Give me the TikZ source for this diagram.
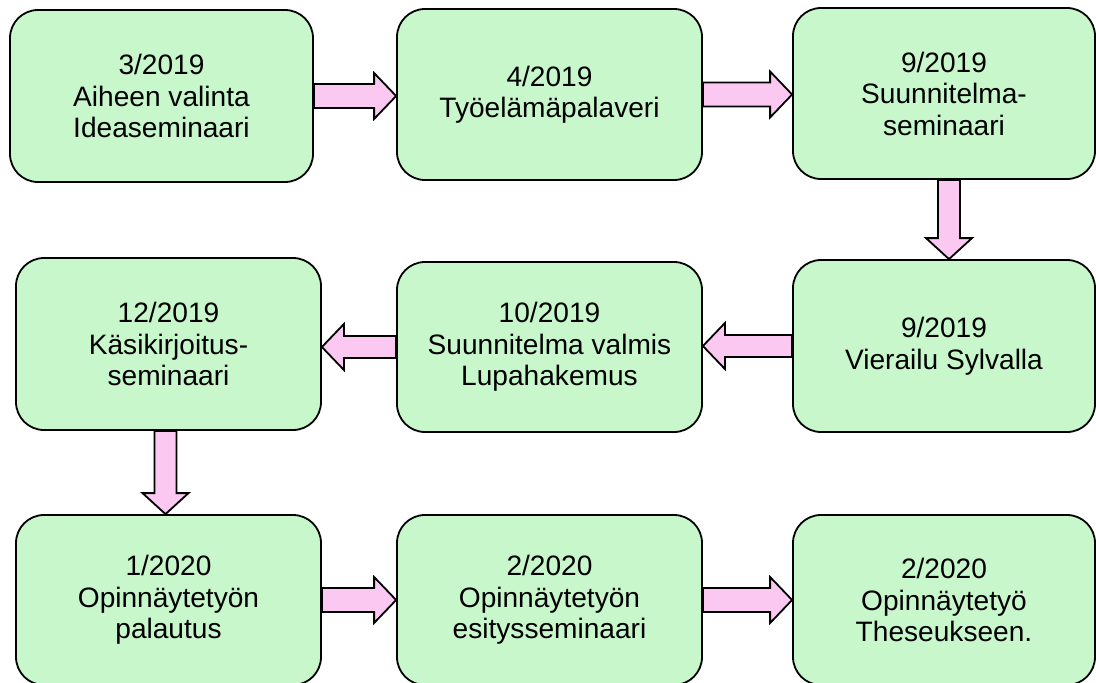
\documentclass[tikz,border=0pt]{standalone}
\usepackage{fontspec}
\setmainfont{Liberation Sans}
\usetikzlibrary{calc}
\definecolor{boxgreen}{RGB}{200,247,204}
\definecolor{arrpink}{RGB}{250,200,240}
\tikzset{
  stepbox/.style={draw=black, line width=1.8pt, fill=boxgreen, rounded corners=28pt,
    rectangle, minimum width=304pt, minimum height=171pt, inner sep=0pt,
    align=center, font=\fontsize{28.1pt}{31.5pt}\selectfont},
  blk/.style={draw=black, line width=1.8pt, fill=arrpink, line join=miter}
}
\newcommand\blockright[2]{\path[blk] let \p1=(#1.east), \p2=(#2.west) in
  (\x1,{\y1+12pt}) -- ({\x2-22pt},{\y1+12pt}) -- ({\x2-22pt},{\y1+23pt}) -- (\x2,\y1)
  -- ({\x2-22pt},{\y1-23pt}) -- ({\x2-22pt},{\y1-12pt}) -- (\x1,{\y1-12pt}) -- cycle;}
\newcommand\blockleft[2]{\path[blk] let \p1=(#1.west), \p2=(#2.east) in
  (\x1,{\y1+11pt}) -- ({\x2+22pt},{\y1+11pt}) -- ({\x2+22pt},{\y1+23pt}) -- (\x2,\y1)
  -- ({\x2+22pt},{\y1-23pt}) -- ({\x2+22pt},{\y1-11pt}) -- (\x1,{\y1-11pt}) -- cycle;}
\newcommand\blockdown[3]{\path[blk] let \p1=(#1.south), \p2=(#2.north) in
  ({\x1+#3pt-11pt},\y1) -- ({\x1+#3pt-11pt},{\y2+21pt}) -- ({\x1+#3pt-23pt},{\y2+21pt}) -- ({\x1+#3pt},\y2)
  -- ({\x1+#3pt+23pt},{\y2+21pt}) -- ({\x1+#3pt+11pt},{\y2+21pt}) -- ({\x1+#3pt+11pt},\y1) -- cycle;}
\begin{document}
\begin{tikzpicture}[x=1pt,y=-1pt]
\useasboundingbox (0,0) rectangle (1096,683);
\node[stepbox, minimum width=303pt, minimum height=172pt] (b1) at (161.5,96) {3/2019\\Aiheen valinta\\Ideaseminaari};
\node[stepbox, minimum width=305pt] (b2) at (549.5,94.5) {4/2019\\Työelämäpalaveri};
\node[stepbox, minimum width=302pt] (b3) at (944,93.5) {9/2019\\Suunnitelma-\\seminaari};
\node[stepbox, minimum width=305pt, minimum height=172pt] (b4) at (168.5,344) {12/2019\\Käsikirjoitus-\\seminaari};
\node[stepbox, minimum width=305pt, minimum height=170pt] (b5) at (549.5,347) {10/2019\\Suunnitelma valmis\\Lupahakemus};
\node[stepbox, minimum width=302pt, minimum height=172pt] (b6) at (944,346) {9/2019\\Vierailu Sylvalla};
\node[stepbox, minimum width=305pt, minimum height=170pt] (b7) at (168.5,600) {1/2020\\Opinnäytetyön\\palautus};
\node[stepbox, minimum width=305pt, minimum height=170pt] (b8) at (549.5,600) {2/2020\\Opinnäytetyön\\esitysseminaari};
\node[stepbox, minimum width=302pt, minimum height=170pt] (b9) at (944,600) {2/2020\\Opinnäytetyö\\Theseukseen.};
\blockright{b1}{b2}
\blockright{b2}{b3}
\blockdown{b3}{b6}{5}
\blockleft{b6}{b5}
\blockleft{b5}{b4}
\blockdown{b4}{b7}{-3}
\blockright{b7}{b8}
\blockright{b8}{b9}
\end{tikzpicture}
\end{document}
